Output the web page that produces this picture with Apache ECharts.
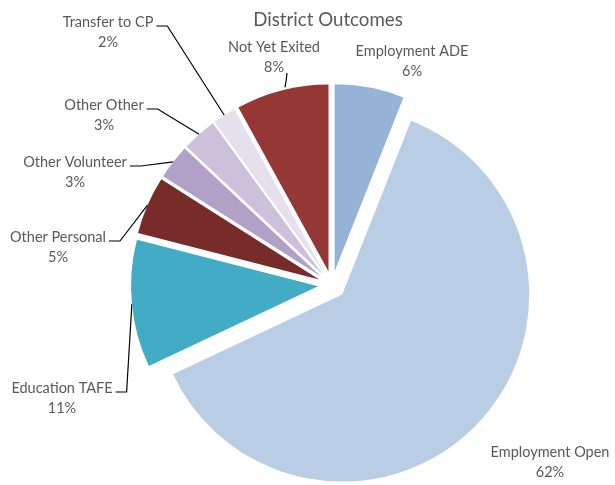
<!DOCTYPE html>
<html>
<head>
<meta charset="utf-8">
<script src="https://cdn.jsdelivr.net/npm/echarts@6/dist/echarts.min.js"></script>
<style>
  html, body { margin: 0; padding: 0; background: #fff; }
  #chart { width: 615px; height: 485px; }
</style>
</head>
<body>
<div id="chart"></div>
<script>
// 数据
const categories = ['Employment ADE', 'Employment Open', 'Education TAFE', 'Other Personal',
  'Other Volunteer', 'Other Other', 'Transfer to CP', 'Not Yet Exited']
const values = [6, 62, 11, 5, 3, 3, 2, 8]
const colors = ['#95B3D7', '#B9CDE5', '#42ACC6', '#772C2A', '#B2A1C7', '#CCC1DA', '#E6E0EC', '#953735']

// 标签位置（样式）
const labelPos = [
  [412, 61], [550, 462], [62, 398], [58, 247],
  [75, 172], [104, 115], [108, 32], [274, 57]
]
const noLine = ['Employment ADE', 'Employment Open']

const pieCenter = [332, 285]
const pieRadius = 187
const explode = 14

let chart = echarts.init(document.getElementById('chart'))

// 引导线：扇区边缘 -> 文字右侧的短横线
function labelLayout (params) {
  let p = labelPos[params.dataIndex]
  let out = { x: p[0], y: p[1], align: 'center', verticalAlign: 'middle' }
  let pts = params.labelLinePoints
  if (pts && pts.length && noLine.indexOf(categories[params.dataIndex]) < 0) {
    let s = pts[0]
    let w = params.labelRect.width
    let h = params.labelRect.height
    if (s[1] > p[1] + h / 2 && Math.abs(s[0] - p[0]) < w / 2) {
      // 文字在扇区正上方：短竖线
      let yb = p[1] + h / 2 - 4
      out.labelLinePoints = [[p[0] + 11, s[1] - 3], [p[0] + 12, (s[1] + yb) / 2], [p[0] + 13, yb]]
    } else {
      let xr = p[0] + w / 2
      let yl = p[1] - h / 2 + 14
      out.labelLinePoints = [[s[0], s[1]], [xr + 14, yl], [xr + 3, yl]]
    }
  }
  return out
}

let option = {
  animation: false,
  title: {
    text: 'District Outcomes',
    left: 323,
    top: 5,
    textAlign: 'center',
    textStyle: { fontFamily: 'Lato', fontSize: 18.7, fontWeight: 'normal', color: '#595959' }
  },
  series: [
    // 扇区（全部分离）
    {
      type: 'pie',
      center: pieCenter,
      radius: pieRadius,
      startAngle: 90,
      selectedMode: 'multiple',
      selectedOffset: explode,
      silent: true,
      label: { show: false },
      labelLine: { show: false },
      data: categories.map((name, i) => ({
        name: name,
        value: values[i],
        selected: true,
        itemStyle: { color: colors[i] }
      }))
    },
    // 只画标签和引导线
    {
      type: 'pie',
      center: pieCenter,
      radius: pieRadius + explode,
      startAngle: 90,
      silent: true,
      avoidLabelOverlap: false,
      itemStyle: { color: 'rgba(0,0,0,0)' },
      label: {
        show: true,
        formatter: '{b}\n{d}%',
        fontFamily: 'Lato',
        fontSize: 14.5,
        lineHeight: 20,
        color: '#595959',
        align: 'center'
      },
      labelLine: {
        show: true,
        length: 10,
        length2: 10,
        lineStyle: { color: '#000', width: 1.2 }
      },
      labelLayout: labelLayout,
      data: categories.map((name, i) => ({
        name: name,
        value: values[i],
        labelLine: { show: noLine.indexOf(name) < 0 }
      }))
    }
  ]
}

chart.setOption(option)
</script>
</body>
</html>
